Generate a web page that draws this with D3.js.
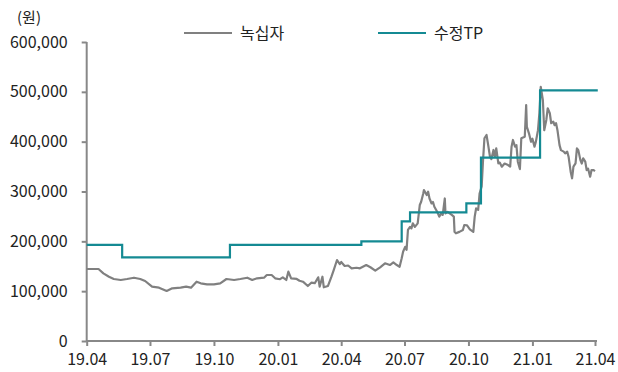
<!DOCTYPE html>
<html><head><meta charset="utf-8">
<script src="https://cdnjs.cloudflare.com/ajax/libs/d3/7.8.5/d3.min.js"></script>
<style>
body{margin:0;background:#fff;}
text{font-family:"Noto Sans CJK KR","Noto Sans",sans-serif;}
</style></head>
<body><svg id="c" width="618" height="372"></svg>
<script>
const priceDates = ["2019-04-01","2019-04-18","2019-04-25","2019-05-03","2019-05-10","2019-05-20","2019-05-29","2019-06-08","2019-06-17","2019-06-24","2019-07-04","2019-07-14","2019-07-25","2019-08-02","2019-08-14","2019-08-22","2019-08-29","2019-09-06","2019-09-12","2019-09-21","2019-10-01","2019-10-10","2019-10-19","2019-10-30","2019-11-08","2019-11-18","2019-11-25","2019-12-02","2019-12-12","2019-12-16","2019-12-23","2019-12-28","2020-01-04","2020-01-08","2020-01-13","2020-01-16","2020-01-20","2020-01-28","2020-02-01","2020-02-06","2020-02-13","2020-02-18","2020-02-23","2020-02-28","2020-03-01","2020-03-05","2020-03-07","2020-03-13","2020-03-18","2020-03-21","2020-03-26","2020-03-30","2020-04-01","2020-04-06","2020-04-11","2020-04-16","2020-04-23","2020-04-28","2020-05-07","2020-05-13","2020-05-20","2020-05-27","2020-06-03","2020-06-10","2020-06-15","2020-06-20","2020-06-24","2020-06-27","2020-06-29","2020-07-02","2020-07-04","2020-07-06","2020-07-09","2020-07-11","2020-07-13","2020-07-16","2020-07-20","2020-07-23","2020-07-25","2020-07-28","2020-07-29","2020-08-02","2020-08-04","2020-08-06","2020-08-09","2020-08-11","2020-08-13","2020-08-17","2020-08-20","2020-08-23","2020-08-25","2020-08-28","2020-08-29","2020-09-01","2020-09-04","2020-09-07","2020-09-10","2020-09-11","2020-09-13","2020-09-18","2020-09-23","2020-09-25","2020-09-29","2020-10-03","2020-10-05","2020-10-08","2020-10-10","2020-10-12","2020-10-15","2020-10-17","2020-10-20","2020-10-22","2020-10-24","2020-10-27","2020-10-29","2020-11-01","2020-11-03","2020-11-06","2020-11-08","2020-11-10","2020-11-13","2020-11-15","2020-11-18","2020-11-22","2020-11-27","2020-11-30","2020-12-02","2020-12-04","2020-12-07","2020-12-09","2020-12-11","2020-12-14","2020-12-16","2020-12-21","2020-12-23","2020-12-24","2020-12-27","2020-12-30","2021-01-01","2021-01-04","2021-01-06","2021-01-09","2021-01-11","2021-01-13","2021-01-16","2021-01-18","2021-01-21","2021-01-23","2021-01-26","2021-01-28","2021-01-31","2021-02-02","2021-02-04","2021-02-06","2021-02-09","2021-02-11","2021-02-15","2021-02-17","2021-02-20","2021-02-22","2021-02-25","2021-02-27","2021-03-01","2021-03-04","2021-03-06","2021-03-08","2021-03-11","2021-03-13","2021-03-15","2021-03-18","2021-03-20","2021-03-22","2021-03-25","2021-03-27","2021-03-30","2021-04-01"];
const priceValues = [144500,144500,135800,129000,124400,122400,124400,127000,124400,120400,109000,107000,100300,105700,107000,109000,107000,119000,115800,113800,113800,115800,124400,122400,124400,127000,122400,125800,127000,132400,132400,125800,124000,127800,122400,139100,125800,124500,121000,119000,110400,117000,116000,127800,109000,129000,107800,110400,129000,141100,162500,154500,158500,150500,151500,145900,147000,145900,152500,148000,141100,147900,155900,152500,157800,152500,149000,166000,179000,189000,183000,222800,229000,226000,236000,229000,236000,272900,279500,296000,303000,293000,299600,286000,276000,279000,269500,259500,249500,256000,253000,286000,256000,259000,256000,253000,249500,219000,216000,219000,222800,232800,232000,224000,222000,219000,249500,266000,263000,296000,310000,363000,406800,413400,396700,369800,365000,383300,370000,386700,356600,358000,349800,356000,353000,349800,390000,403400,390000,393000,359800,345000,406800,410000,473600,430000,416800,400000,406000,390000,400000,423000,457000,510000,483600,423000,443500,467000,457000,437000,440000,433000,437000,423000,393000,383000,380000,376700,380000,369800,339700,326500,350000,356600,386700,383000,363000,356000,366600,360000,343000,346000,329700,343000,343000,341000];
const tpDates = ["2019-04-01","2019-05-22","2019-10-24","2020-04-30","2020-06-27","2020-07-09","2020-09-28","2020-10-19","2021-01-12","2021-04-05"];
const tpValues = [193000,168000,193000,200000,240000,258000,276000,368000,503000,503000];
const yTicks = [0,100000,200000,300000,400000,500000,600000];
const xTickLabels = ["19.04","19.07","19.10","20.01","20.04","20.07","20.10","21.01","21.04"];
const seriesNames = ["녹십자","수정TP"];
const unitLabel = "(원)";

const parse = d3.timeParse("%Y-%m-%d");
const svg = d3.select("#c");
const x0 = 86.7, x1 = 595, yB = 341, yT = 42;
const x = d3.scaleTime().domain([parse("2019-04-01"), parse("2021-04-01")]).range([x0, x1]);
const y = d3.scaleLinear().domain([0, 600000]).range([yB, yT]);
const axisColor = "#888888";
const grayC = "#808080", tealC = "#148a93";

const xTickDates = xTickLabels.map(s => parse("20" + s.slice(0,2) + "-" + s.slice(3) + "-01"));
const xAxis = d3.axisBottom(x).tickValues(xTickDates).tickSize(5).tickFormat((d,i)=>xTickLabels[i]);
const gx = svg.append("g").attr("transform", `translate(0,${yB})`).call(xAxis);
gx.select(".domain").attr("stroke", axisColor).attr("stroke-width", 2).attr("d", `M${x0},0H${x1+2}`);
gx.selectAll(".tick line").attr("stroke", axisColor).attr("stroke-width", 2);
gx.selectAll(".tick text").attr("fill", "#222").attr("font-size", 16).attr("dy", "0.98em");

const yAxis = d3.axisLeft(y).tickValues(yTicks).tickSize(5).tickFormat(d3.format(","));
const gy = svg.append("g").attr("transform", `translate(${x0},0)`).call(yAxis);
gy.select(".domain").attr("stroke", axisColor).attr("stroke-width", 2).attr("d", `M0,${yT}V${yB}`);
gy.selectAll(".tick line").attr("stroke", axisColor).attr("stroke-width", 2);
gy.selectAll(".tick text").attr("fill", "#222").attr("font-size", 16).attr("x", -19);

svg.append("text").attr("x", 29).attr("y", 23).attr("text-anchor", "middle")
  .attr("font-size", 15).attr("fill", "#222").text(unitLabel);

const priceData = priceDates.map((d,i)=>({d:parse(d), v:priceValues[i]}));
const tpData = tpDates.map((d,i)=>({d:parse(d), v:tpValues[i]}));
const line = d3.line().x(p=>x(p.d)).y(p=>y(p.v));
svg.append("path").datum(priceData).attr("d", line).attr("fill","none")
  .attr("stroke", grayC).attr("stroke-width", 2.2).attr("stroke-linejoin","round");
const stepLine = d3.line().x(p=>x(p.d)).y(p=>y(p.v)).curve(d3.curveStepAfter);
svg.append("path").datum(tpData).attr("d", stepLine).attr("fill","none")
  .attr("stroke", tealC).attr("stroke-width", 2.2);

const leg = [{n:seriesNames[0], c:grayC, x:184}, {n:seriesNames[1], c:tealC, x:378}];
leg.forEach(l=>{
  svg.append("line").attr("x1", l.x).attr("x2", l.x+48).attr("y1", 33).attr("y2", 33)
    .attr("stroke", l.c).attr("stroke-width", 2.2);
  svg.append("text").attr("x", l.x+56).attr("y", 39).attr("font-size", 16)
    .attr("fill", "#222").text(l.n);
});
</script></body></html>
